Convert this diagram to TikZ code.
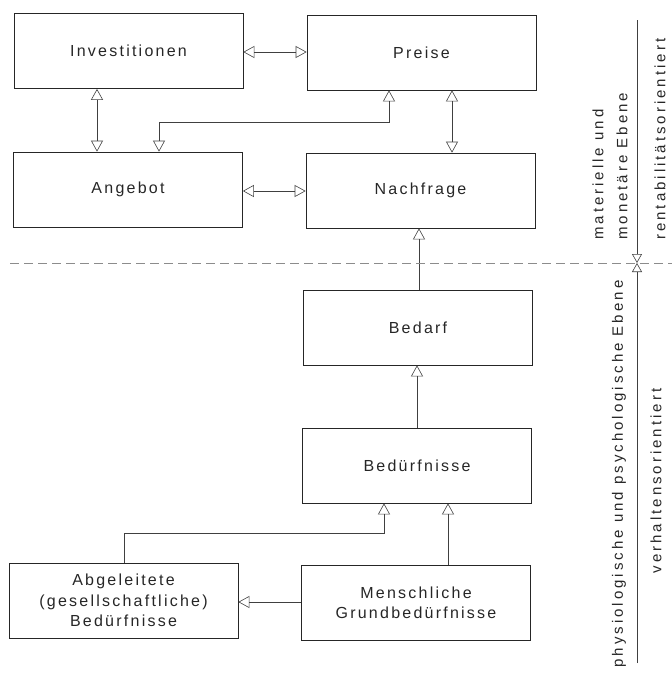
\documentclass[tikz,border=0pt]{standalone}
\usepackage{fontspec}
\setmainfont{Liberation Sans}
\newfontfamily\boxfont[LetterSpace=14]{Liberation Sans}
\newfontfamily\lblfont[LetterSpace=20]{Liberation Sans}
\usetikzlibrary{arrows.meta}
\begin{document}
\begin{tikzpicture}[x=1pt,y=-1pt,
  box/.style={draw=black!85,line width=0.7pt,minimum width=229pt,minimum height=75pt,inner sep=0pt,
    font=\boxfont\fontsize{16}{20.5}\selectfont,text=black!85,align=center},
  conn/.style={draw=black!75,line width=0.5pt},
  tip/.style={-{Triangle[open,length=11pt,width=12pt,line width=0.6pt]}},
  tips/.style={{Triangle[open,length=11pt,width=12pt,line width=0.6pt]}-{Triangle[open,length=11pt,width=12pt,line width=0.6pt]}},
  lbl/.style={font=\lblfont\fontsize{15}{24}\selectfont,text=black!85,rotate=90,inner sep=0pt}]
\useasboundingbox (0,0) rectangle (672,675);
\node[box] (inv) at (128.5,51) {Investitionen};
\node[box] (pre) at (421.5,52.5) {Preise};
\node[box] (ang) at (128,189.5) {Angebot};
\node[box] (nach) at (420.5,190.5) {Nachfrage};
\node[box] (bed) at (418,327.5) {Bedarf};
\node[box] (bdn) at (417,465.5) {Bedürfnisse};
\node[box] (men) at (416,603) {Menschliche\\Grundbedürfnisse};
\node[box] (abg) at (123.5,600.5) {Abgeleitete\\(gesellschaftliche)\\Bedürfnisse};
% connectors
\draw[conn,tips] (inv.east |- 0,52) -- (pre.west |- 0,52);
\draw[conn,tips] (ang.east |- 0,191) -- (nach.west |- 0,191);
\draw[conn,tips] (inv.south -| 97,0) -- (ang.north -| 97,0);
\draw[conn,tips] (pre.south -| 452,0) -- (nach.north -| 452,0);
\draw[conn,tips] (pre.south -| 389,0) -- (389,122) -- (159,122) -- (ang.north -| 159,0);
\draw[conn,tip] (bed.north -| 419,0) -- (nach.south -| 419,0);
\draw[conn,tip] (bdn.north -| 417,0) -- (bed.south -| 417,0);
\draw[conn,tip] (men.north -| 448,0) -- (bdn.south -| 448,0);
\draw[conn,tip] (abg.north -| 124,0) -- (124,533) -- (384,533) -- (bdn.south -| 384,0);
\draw[conn,tip] (men.west |- 0,602) -- (abg.east |- 0,602);
% level separator
\coordinate (dl) at (10,263);
\coordinate (dr) at (672,263);
\draw[black!45,line width=0.5pt,dash pattern=on 9pt off 5pt] (dl) -- (dr);
\coordinate (vt) at (637,20);
\coordinate (vm) at (637,263);
\coordinate (vb) at (637,663);
\draw[conn,-{Triangle[open,length=9pt,width=10pt,line width=0.6pt]}] (vt) -- (vm);
\draw[conn,-{Triangle[open,length=9pt,width=10pt,line width=0.6pt]}] (vb) -- (vm);
% labels
\node[lbl,anchor=west,align=left] (mat) at (610,240) {materielle und\\monetäre Ebene};
\node[lbl,anchor=west] (ren) at (660,240) {rentabilitätsorientiert};
\node[lbl] (phy) at (619,474) {physiologische und psychologische Ebene};
\node[lbl] (ver) at (656,481) {verhaltensorientiert};
\end{tikzpicture}
\end{document}
